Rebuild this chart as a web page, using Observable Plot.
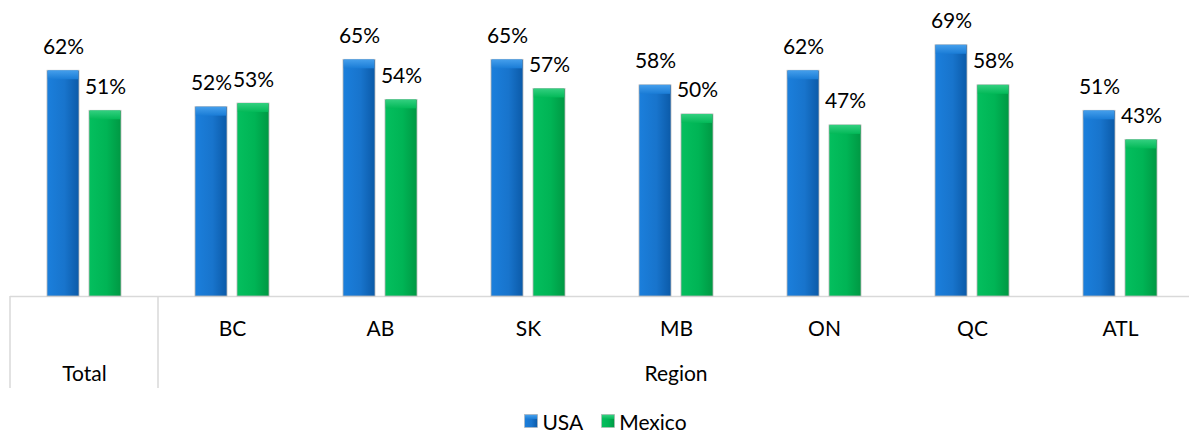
<!DOCTYPE html>
<html><head><meta charset="utf-8">
<script src="https://cdn.jsdelivr.net/npm/d3@7"></script>
<script src="https://cdn.jsdelivr.net/npm/@observablehq/plot@0.6"></script>
<style>
html,body{margin:0;padding:0;background:#fff;}
body{font-family:Lato,"Open Sans",sans-serif;color:#000;width:1189px;overflow:hidden;}
#legend{display:flex;justify-content:center;align-items:center;height:30px;font-size:21px;gap:18px;padding-left:22px;}
#legend span{display:inline-flex;align-items:center;gap:4px;}
</style></head>
<body><div id="chart"></div><div id="legend"></div>
<script>
const categories = ["Total","BC","AB","SK","MB","ON","QC","ATL"];
const regionGroup = ["BC","AB","SK","MB","ON","QC","ATL"];
const groupLabels = ["Total","Region"];
const series = ["USA","Mexico"];
const usa = [62,52,65,65,58,62,69,51];
const mexico = [51,53,54,57,50,47,58,43];

const data = categories.flatMap((c,i)=>[
  {cat:c, series:"USA", value:usa[i]},
  {cat:c, series:"Mexico", value:mexico[i]}
]);

const plot = Plot.plot({
  width:1189, height:406,
  marginTop:0, marginBottom:110, marginLeft:9, marginRight:0,
  style:{fontFamily:"Lato, 'Open Sans', sans-serif", background:"#fff", overflow:"visible"},
  fx:{domain:categories, range:[9,1195], paddingInner:0, paddingOuter:0, axis:null},
  x:{domain:series, paddingInner:0.2326, paddingOuter:0.84, axis:null},
  y:{domain:[0,81.3], axis:null},
  color:{domain:series, range:["url(#gUSA)","url(#gMex)"]},
  marks:[
    Plot.ruleY([0],{stroke:"#d9d9d9", strokeWidth:1.5}),
    Plot.barY(data,{fx:"cat", x:"series", y:"value", fill:"series", stroke:"#b8b8b8", strokeWidth:0.8}),
    Plot.barY(data,{fx:"cat", x:"series", y1:"value", y2:"value", insetBottom:-9, insetLeft:0.8, insetRight:0.8,
      fill:d=>d.series==="USA" ? "url(#tUSA)" : "url(#tMex)"}),
    Plot.text(data,{fx:"cat", x:"series", y:"value", text:d=>d.value+"%", lineAnchor:"bottom", dy:-17, fontSize:21, fill:"#000"}),
    Plot.text(regionGroup,{fx:d=>d, text:d=>d, frameAnchor:"bottom", lineAnchor:"middle", dy:33, fontSize:21, fill:"#000"}),
    Plot.text(["Total"],{fx:d=>d, text:d=>d, frameAnchor:"bottom", lineAnchor:"middle", dy:78, fontSize:21, fill:"#000"})
  ]
});
document.getElementById("chart").appendChild(plot);

const svg = d3.select(plot);
const defs = svg.insert("defs",":first-child");
function hgrad(id, stops){
  const g = defs.append("linearGradient").attr("id",id).attr("x1","0").attr("x2","1").attr("y1","0").attr("y2","0");
  stops.forEach(([o,c])=>g.append("stop").attr("offset",o).attr("stop-color",c));
}
function vgrad(id, stops){
  const g = defs.append("linearGradient").attr("id",id).attr("x1","0").attr("x2","0").attr("y1","0").attr("y2","1");
  stops.forEach(([o,c])=>g.append("stop").attr("offset",o).attr("stop-color",c));
}
hgrad("gUSA",[["0","#1b7fdc"],["0.55","#1874cc"],["1","#0b5aa8"]]);
hgrad("gMex",[["0","#04bf5e"],["0.55","#00b455"],["1","#009843"]]);
vgrad("tUSA",[["0","#459fec"],["1","#1a7cd6"]]);
vgrad("tMex",[["0","#33d080"],["1","#03b958"]]);

// dividers and the second-level "Region" label, positioned with Plot's fx scale
const fx = plot.scale("fx");
const bw = fx.bandwidth;
const y0 = plot.scale("y").apply(0);
const gLines = svg.append("g").attr("stroke","#d9d9d9").attr("stroke-width",1.5);
[fx.apply("Total"), fx.apply("BC")].forEach(x=>{
  gLines.append("line").attr("x1",x).attr("x2",x).attr("y1",y0).attr("y2",y0+92);
});
const rx = (fx.apply(regionGroup[0]) + fx.apply(regionGroup[regionGroup.length-1]) + bw)/2;
svg.append("text").attr("x",rx).attr("y",y0+78).attr("dy","0.32em").attr("text-anchor","middle")
  .attr("font-size",21).attr("fill","#000").text(groupLabels[1]);

// legend
const leg = d3.select("#legend");
series.forEach((s,i)=>{
  const sp = leg.append("span");
  const sw = sp.append("svg").attr("width",14).attr("height",14);
  sw.append("rect").attr("x",0.5).attr("y",0.5).attr("width",13).attr("height",13)
    .attr("fill", i===0 ? "url(#gUSA)" : "url(#gMex)").attr("stroke","#b8b8b8").attr("stroke-width",0.6);
  sw.append("rect").attr("x",1).attr("y",1).attr("width",12).attr("height",4)
    .attr("fill", i===0 ? "url(#tUSA)" : "url(#tMex)");
  sp.append("span").text(s);
});
</script>
</body></html>
